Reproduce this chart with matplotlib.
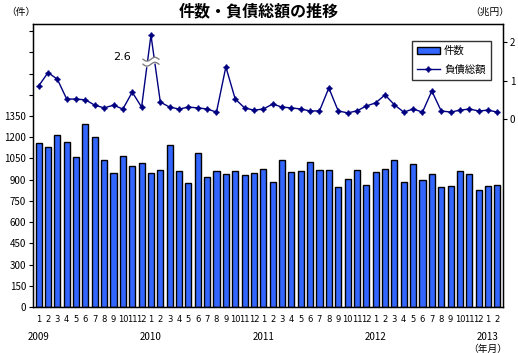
import numpy as np
import matplotlib.pyplot as plt
from matplotlib.transforms import blended_transform_factory

plt.rcParams['font.family'] = ['Noto Sans CJK JP', 'DejaVu Sans']

# 件数 (2009/1 - 2013/2)
cases = [1157, 1128, 1215, 1164, 1058, 1291, 1199, 1037, 945, 1065, 994, 1015,
         945, 966, 1143, 959, 874, 1086, 917, 959, 938, 959, 931, 945,
         973, 883, 1037, 952, 959, 1023, 966, 966, 846, 902, 966, 860,
         952, 973, 1037, 881, 1008, 895, 938, 846, 853, 959, 938, 825,
         853, 860]

# 負債総額 (兆円)
debt = [0.86, 1.21, 1.04, 0.52, 0.52, 0.50, 0.36, 0.29, 0.36, 0.26, 0.70, 0.31,
        2.6, 0.44, 0.31, 0.26, 0.31, 0.29, 0.26, 0.18, 1.36, 0.52, 0.29, 0.23,
        0.26, 0.39, 0.31, 0.29, 0.26, 0.21, 0.21, 0.81, 0.21, 0.16, 0.21, 0.34,
        0.42, 0.63, 0.37, 0.18, 0.26, 0.18, 0.73, 0.21, 0.18, 0.23, 0.26, 0.21,
        0.23, 0.18]

months = list(range(1, 13)) * 4 + [1, 2]
years = ['2009', '2010', '2011', '2012', '2013']

x = np.arange(len(cases))
cap = 2.19  # 2.6 は省略表示
debt_plot = np.minimum(debt, cap)

fig = plt.figure(figsize=(5.18, 3.53), dpi=100)
ax = fig.add_axes([0.0637, 0.1303, 0.9073, 0.8017])

ax.bar(x, cases, width=0.65, color='#3366ff', edgecolor='black', linewidth=1.0,
       label='件数', zorder=2)
ax.set_xlim(-0.6, len(cases) - 0.4)
ax.set_ylim(0, 2000)
ax.set_yticks(np.arange(0, 2000, 150))
ax.set_yticklabels([str(v) if v <= 1350 else '' for v in range(0, 2000, 150)])
ax.tick_params(axis='y', labelsize=7, length=3, direction='out', pad=2)
ax.set_xticks(x)
ax.set_xticklabels([str(m) for m in months], fontsize=6, family='DejaVu Sans')
ax.tick_params(axis='x', length=0, pad=6)
for s in ax.spines.values():
    s.set_linewidth(1.0)

tr = blended_transform_factory(ax.transData, fig.transFigure)
for i, y in enumerate(years):
    ax.text(x[0] + 12 * i, 1 - 337 / 353, y, transform=tr, ha='center', va='center',
            fontsize=7)
ax.text(x[-2], 1 - 349 / 353, '（年月）', transform=tr, ha='center', va='center',
        fontsize=7)

ax2 = ax.twinx()
ax2.plot(x, debt_plot, color='#000080', linewidth=1.0, marker=(4, 1, 0),
         markersize=4, label='負債総額', zorder=3)
ax2.set_ylim(-4.91, 2.48)
ax2.set_yticks([0, 1, 2])
ax2.tick_params(axis='y', labelsize=7, length=3, direction='out', pad=2)

# 省略記号
xb = np.linspace(-0.85, 0.85, 40) + 12
wave = 0.05 * np.sin(np.pi * (xb - 12) / 0.85)
ax2.fill_between(xb, 1.43 + wave, 1.56 + wave, color='white', zorder=4)
ax2.plot(xb, 1.43 + wave, color='#808080', linewidth=1.0, zorder=5)
ax2.plot(xb, 1.56 + wave, color='#808080', linewidth=1.0, zorder=5)
ax2.text(8.9, 1.62, '2.6', ha='center', va='center', fontsize=8,
         family='DejaVu Sans')

h1, l1 = ax.get_legend_handles_labels()
h2, l2 = ax2.get_legend_handles_labels()
leg = ax2.legend(h1 + h2, l1 + l2, loc='upper right', bbox_to_anchor=(0.985, 0.96),
                 fontsize=7.5, frameon=True, fancybox=False, edgecolor='black',
                 handlelength=2.2, handletextpad=0.4, borderpad=0.5,
                 labelspacing=0.8)
leg.get_frame().set_linewidth(1.0)

fig.text(0.5, 1 - 11 / 353, '件数・負債総額の推移', ha='center', va='center',
         fontsize=11.5, fontweight='bold')
fig.text(0.04, 1 - 12 / 353, '（件）', ha='center', va='center', fontsize=7)
fig.text(0.945, 1 - 12 / 353, '（兆円）', ha='center', va='center', fontsize=7)

fig.savefig('out.png', dpi=100)
